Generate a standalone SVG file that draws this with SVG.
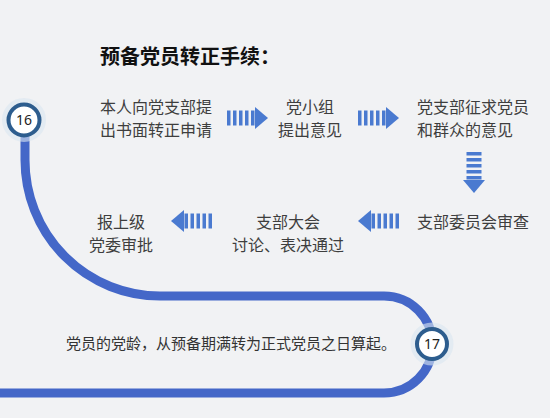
<svg xmlns="http://www.w3.org/2000/svg" xmlns:xlink="http://www.w3.org/1999/xlink" width="550" height="418" viewBox="0 0 550 418">
  <style>
    .bg { fill: #f1f2f4; }
    .t { font-family: "Noto Sans CJK SC", "Noto Sans", sans-serif; font-size: 16px; fill: #3e3e3e; }
    .title { font-family: "Noto Sans CJK SC", "Noto Sans", sans-serif; font-size: 20px; font-weight: bold; fill: #111; }
    .note { font-family: "Noto Sans CJK SC", "Noto Sans", sans-serif; font-size: 15px; fill: #333; }
    .num { font-family: "Noto Sans", "Liberation Sans", sans-serif; font-size: 14px; fill: #222; text-anchor: middle; }
    .track { fill: none; stroke: #4467c8; stroke-width: 9; }
    .halo { fill: none; stroke: #dbe6f0; stroke-width: 6; opacity: 0.6; }
    .ring { fill: #ffffff; stroke: #2d5d8e; stroke-width: 4; }
    .arw { fill: #4a7ad0; }
  </style>
  <defs>
    <g id="arrow">
      <rect class="arw" x="0" y="-7.5" width="3.5" height="15"/>
      <rect class="arw" x="6" y="-7.5" width="3.5" height="15"/>
      <rect class="arw" x="12" y="-7.5" width="3.5" height="15"/>
      <rect class="arw" x="18" y="-7.5" width="3.5" height="15"/>
      <rect class="arw" x="24" y="-7.5" width="3.5" height="15"/>
      <polygon class="arw" points="28,-11 41,0 28,11"/>
    </g>
  </defs>
  <rect class="bg" x="0" y="0" width="550" height="418"/>

  <g id="connectors">
    <path class="track" d="M25,132 L25,160 A135,136 0 0 0 160,296 L384,296 A48.5,48.5 0 0 1 384,393 L0,393"/>
    <use xlink:href="#arrow" href="#arrow" transform="translate(227,118)"/>
    <use xlink:href="#arrow" href="#arrow" transform="translate(358,118)"/>
    <use xlink:href="#arrow" href="#arrow" transform="translate(474,152) rotate(90)"/>
    <use xlink:href="#arrow" href="#arrow" transform="translate(399,221) scale(-1,1)"/>
    <use xlink:href="#arrow" href="#arrow" transform="translate(212,221) scale(-1,1)"/>
  </g>

  <g id="title">
    <text class="title" x="100" y="64">预备党员转正手续：</text>
  </g>

  <g id="marker16">
    <circle class="halo" cx="24" cy="120" r="19"/>
    <circle class="ring" cx="24" cy="120" r="15.5"/>
    <text class="num" x="24" y="125">16</text>
  </g>

  <g id="marker17">
    <circle class="halo" cx="432" cy="344" r="18.5"/>
    <circle class="ring" cx="432" cy="344" r="15"/>
    <text class="num" x="432" y="349">17</text>
  </g>

  <g id="step1">
    <text class="t" x="156" y="113" text-anchor="middle">本人向党支部提</text>
    <text class="t" x="156" y="136" text-anchor="middle">出书面转正申请</text>
  </g>

  <g id="step2">
    <text class="t" x="310" y="113" text-anchor="middle">党小组</text>
    <text class="t" x="310" y="136" text-anchor="middle">提出意见</text>
  </g>

  <g id="step3">
    <text class="t" x="417" y="113">党支部征求党员</text>
    <text class="t" x="417" y="136">和群众的意见</text>
  </g>

  <g id="step4">
    <text class="t" x="417" y="228">支部委员会审查</text>
  </g>

  <g id="step5">
    <text class="t" x="288" y="228" text-anchor="middle">支部大会</text>
    <text class="t" x="288" y="251" text-anchor="middle">讨论、表决通过</text>
  </g>

  <g id="step6">
    <text class="t" x="121" y="228" text-anchor="middle">报上级</text>
    <text class="t" x="121" y="251" text-anchor="middle">党委审批</text>
  </g>

  <g id="note">
    <text class="note" x="66" y="349">党员的党龄，从预备期满转为正式党员之日算起。</text>
  </g>
</svg>
